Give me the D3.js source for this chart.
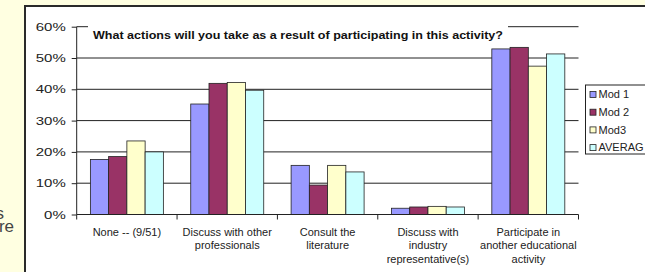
<!DOCTYPE html>
<html>
<head>
<meta charset="utf-8">
<script src="https://cdn.jsdelivr.net/npm/d3@7"></script>
<style>
  body { margin: 0; background: #FFFFE1; overflow: hidden; }
  svg { display: block; font-family: Arial, "Liberation Sans", sans-serif; }
</style>
</head>
<body>
<svg id="chart" width="645" height="272"></svg>
<script>
// chart values (percent)
var categories = ["none", "discuss", "consult", "industry", "participate"];
var categoryLabels = [
    ["None --  (9/51)"],
    ["Discuss with other", "professionals"],
    ["Consult the", "literature"],
    ["Discuss with", "industry", "representative(s)"],
    ["Participate in", "another educational", "activity"]
];
var seriesNames = ["Mod 1", "Mod 2", "Mod3", "AVERAG"];
var mod1    = [17.6, 35.3, 15.7, 2.0, 52.9];
var mod2    = [18.5, 41.9, 9.4, 2.4, 53.4];
var mod3    = [23.5, 42.2, 15.7, 2.6, 47.4];
var average = [20.0, 39.7, 13.6, 2.4, 51.3];
var yTicks  = [0, 10, 20, 30, 40, 50, 60];
var colors  = ["#9999FF", "#993366", "#FFFFCC", "#CCFFFF"];
var title   = "What actions will you take as a result of participating in this activity?";

var seriesValues = [mod1, mod2, mod3, average];

// stretch text horizontally, the source picture is a bit wider than it is tall
function stretch(sel, k){
    sel.each(function(){
        var w = this.getComputedTextLength();
        d3.select(this).attr("textLength", w * k).attr("lengthAdjust", "spacingAndGlyphs");
    });
}

var svg = d3.select("#chart");

// background slide text peeking out on the left
svg.append("text").attr("x", 4).attr("y", 219).attr("text-anchor", "end")
    .attr("font-size", 17).attr("fill", "#444").text("s");
svg.append("text").attr("x", 14).attr("y", 232).attr("text-anchor", "end")
    .attr("font-size", 17).attr("fill", "#444").text("re");

// chart frame
svg.append("rect")
    .attr("x", 25).attr("y", 6)
    .attr("width", 660).attr("height", 300)
    .attr("fill", "#fff")
    .attr("stroke", "#2a2a2a")
    .attr("stroke-width", 2);

var plotLeft = 76.7, plotRight = 578.5, plotTop = 26.7, plotBottom = 214.5;

var x = d3.scaleBand().domain(categories).range([plotLeft, plotRight]).padding(0);
var xs = d3.scaleBand().domain(seriesNames).range([0, x.bandwidth()])
    .paddingInner(0).paddingOuter(0.75);
var y = d3.scaleLinear().domain([0, 60]).range([plotBottom, plotTop]);

var g = svg.append("g");

// gridlines
g.selectAll(".grid")
    .data(yTicks.filter(function(d){ return d > 0; }))
    .enter().append("line")
    .attr("class", "grid")
    .attr("x1", plotLeft).attr("x2", plotRight)
    .attr("y1", function(d){ return y(d); })
    .attr("y2", function(d){ return y(d); })
    .attr("stroke", "#222")
    .attr("stroke-width", 1);

// bars
seriesValues.forEach(function(vals, si){
    g.selectAll(".bar-" + si)
        .data(vals)
        .enter().append("rect")
        .attr("class", "bar-" + si)
        .attr("x", function(d, i){ return x(categories[i]) + xs(seriesNames[si]); })
        .attr("y", function(d){ return y(d); })
        .attr("width", xs.bandwidth())
        .attr("height", function(d){ return plotBottom - y(d); })
        .attr("fill", colors[si])
        .attr("stroke", "#222")
        .attr("stroke-width", 0.8);
});

// y axis
var yAxis = g.append("g")
    .attr("transform", "translate(" + plotLeft + ",0)")
    .call(d3.axisLeft(y).tickValues(yTicks).tickSize(5).tickPadding(6)
        .tickFormat(function(d){ return d + "%"; }));
yAxis.select(".domain").attr("stroke", "#222").attr("d", "M0," + plotTop + "V" + plotBottom);
yAxis.selectAll(".tick line").attr("stroke", "#222");
yAxis.selectAll(".tick text")
    .attr("font-size", 11)
    .attr("fill", "#222")
    .attr("font-family", "Arial, 'Liberation Sans', sans-serif")
    .call(stretch, 1.36);

// x axis
g.append("line")
    .attr("x1", plotLeft).attr("x2", plotRight)
    .attr("y1", plotBottom).attr("y2", plotBottom)
    .attr("stroke", "#222");
g.selectAll(".xtick")
    .data(categories.concat(["end"]))
    .enter().append("line")
    .attr("class", "xtick")
    .attr("x1", function(d, i){ return plotLeft + i * x.step(); })
    .attr("x2", function(d, i){ return plotLeft + i * x.step(); })
    .attr("y1", plotBottom).attr("y2", plotBottom + 5)
    .attr("stroke", "#222");

var labels = g.selectAll(".xlabel")
    .data(categoryLabels)
    .enter().append("text")
    .attr("class", "xlabel")
    .attr("text-anchor", "middle")
    .attr("font-size", 10)
    .attr("fill", "#222")
    .attr("transform", function(d, i){
        return "translate(" + (x(categories[i]) + x.bandwidth() / 2) + "," + (plotBottom + 21) + ")";
    });
labels.selectAll("tspan")
    .data(function(d){ return d; })
    .enter().append("tspan")
    .attr("x", 0)
    .attr("y", function(d, i){ return i * 13.5; })
    .text(function(d){ return d; })
    .call(stretch, 1.1);

// title with white backing over the top gridline
svg.append("rect")
    .attr("x", 88).attr("y", 22).attr("width", 420).attr("height", 22)
    .attr("fill", "#fff");
svg.append("text")
    .attr("x", 298).attr("y", 39)
    .attr("text-anchor", "middle")
    .attr("font-size", 11)
    .attr("font-weight", "bold")
    .attr("fill", "#111")
    .text(title)
    .attr("textLength", 410)
    .attr("lengthAdjust", "spacingAndGlyphs");

// legend
var legend = svg.append("g").attr("transform", "translate(585.5,85)");
legend.append("rect")
    .attr("width", 80).attr("height", 69)
    .attr("fill", "#fff").attr("stroke", "#222").attr("stroke-width", 1);
var items = legend.selectAll(".item")
    .data(seriesNames)
    .enter().append("g")
    .attr("class", "item")
    .attr("transform", function(d, i){ return "translate(0," + (9.5 + i * 17.7) + ")"; });
items.append("rect")
    .attr("x", 4.5).attr("y", -3)
    .attr("width", 6).attr("height", 6)
    .attr("fill", function(d, i){ return colors[i]; })
    .attr("stroke", "#222").attr("stroke-width", 0.8);
items.append("text")
    .attr("x", 13).attr("y", 3.6)
    .attr("font-size", 10)
    .attr("fill", "#222")
    .text(function(d){ return d; })
    .call(stretch, 1.1);
</script>
</body>
</html>
